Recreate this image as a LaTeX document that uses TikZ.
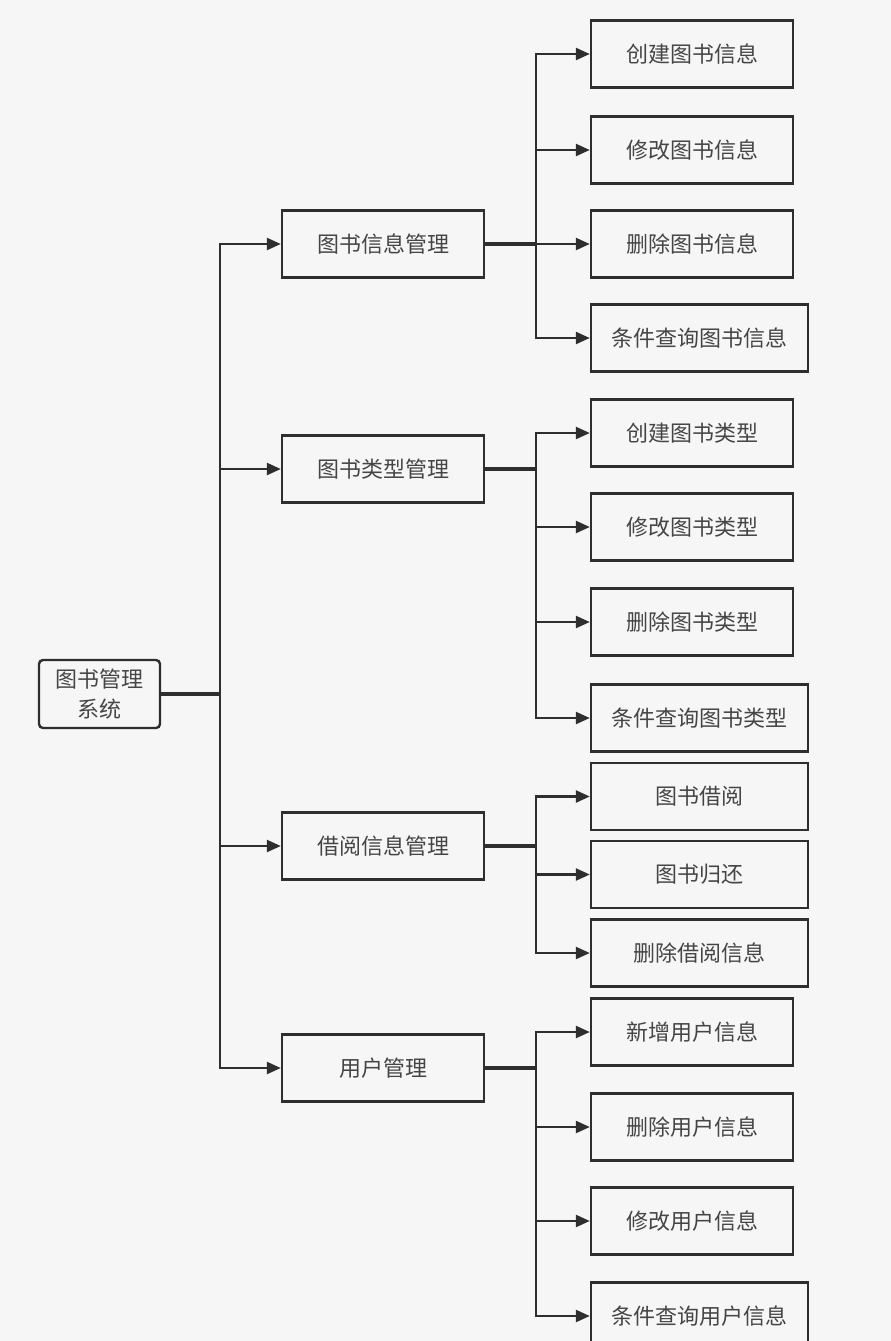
\documentclass[tikz,border=0pt]{standalone}
\usepackage{fontspec}
\setmainfont{Noto Sans CJK SC}
\usetikzlibrary{arrows.meta}
\definecolor{bg}{HTML}{F6F6F6}
\definecolor{ln}{HTML}{2E2E2E}
\definecolor{tx}{HTML}{454545}
\tikzset{
  box/.style={draw=ln, line width=2.4pt, fill=bg, minimum width=202pt, minimum height=67pt,
    inner sep=0pt, text=tx, font=\fontsize{22}{30}\selectfont, align=center},
  widebox/.style={box, minimum width=217pt},
  rootbox/.style={box, minimum width=121pt, minimum height=68pt, rounded corners=4pt},
  conn/.style={draw=ln, line width=2.4pt},
  feed/.style={draw=ln, line width=3.2pt},
  arr/.style={conn, -{Triangle[length=14pt,width=12pt]}},
}
\begin{document}
\begin{tikzpicture}[x=1pt,y=-1pt]
\fill[bg] (0,0) rectangle (891,1341);
\useasboundingbox (0,0) rectangle (891,1341);

\node[rootbox] (root) at (99.5,694) {图书管理\\系统};

\node[box] (ga) at (383,244) {图书信息管理};
\node[box] (gb) at (383,469) {图书类型管理};
\node[box] (gc) at (383,846) {借阅信息管理};
\node[box] (gd) at (383,1068) {用户管理};

\node[box] (a1) at (692,54) {创建图书信息};
\node[box] (a2) at (692,150) {修改图书信息};
\node[box] (a3) at (692,244) {删除图书信息};
\node[widebox] (a4) at (699.5,338) {条件查询图书信息};

\node[box] (b1) at (692,433) {创建图书类型};
\node[box] (b2) at (692,527) {修改图书类型};
\node[box] (b3) at (692,622) {删除图书类型};
\node[widebox] (b4) at (699.5,718) {条件查询图书类型};

\node[widebox] (c1) at (699.5,796.5) {图书借阅};
\node[widebox] (c2) at (699.5,874.5) {图书归还};
\node[widebox] (c3) at (699.5,953) {删除借阅信息};

\node[box] (d1) at (692,1032) {新增用户信息};
\node[box] (d2) at (692,1127) {删除用户信息};
\node[box] (d3) at (692,1221) {修改用户信息};
\node[widebox] (d4) at (699.5,1316) {条件查询用户信息};

\coordinate (trunk) at (220,694);
\coordinate (busa) at (536,244);
\coordinate (busb) at (536,469);
\coordinate (busc) at (536,846);
\coordinate (busd) at (536,1068);

\draw[feed] (root.east) -- (trunk);
\foreach \g in {ga,gb,gc,gd} \draw[arr] (trunk) |- (\g.west);

\draw[feed] (ga.east) -- (busa);
\foreach \n in {a1,a2,a3,a4} \draw[arr] (busa) |- (\n.west);
\draw[feed] (gb.east) -- (busb);
\foreach \n in {b1,b2,b3,b4} \draw[arr] (busb) |- (\n.west);
\draw[feed] (gc.east) -- (busc);
\foreach \n in {c1,c2,c3} \draw[arr] (busc) |- (\n.west);
\draw[feed] (gd.east) -- (busd);
\foreach \n in {d1,d2,d3,d4} \draw[arr] (busd) |- (\n.west);
\end{tikzpicture}
\end{document}
